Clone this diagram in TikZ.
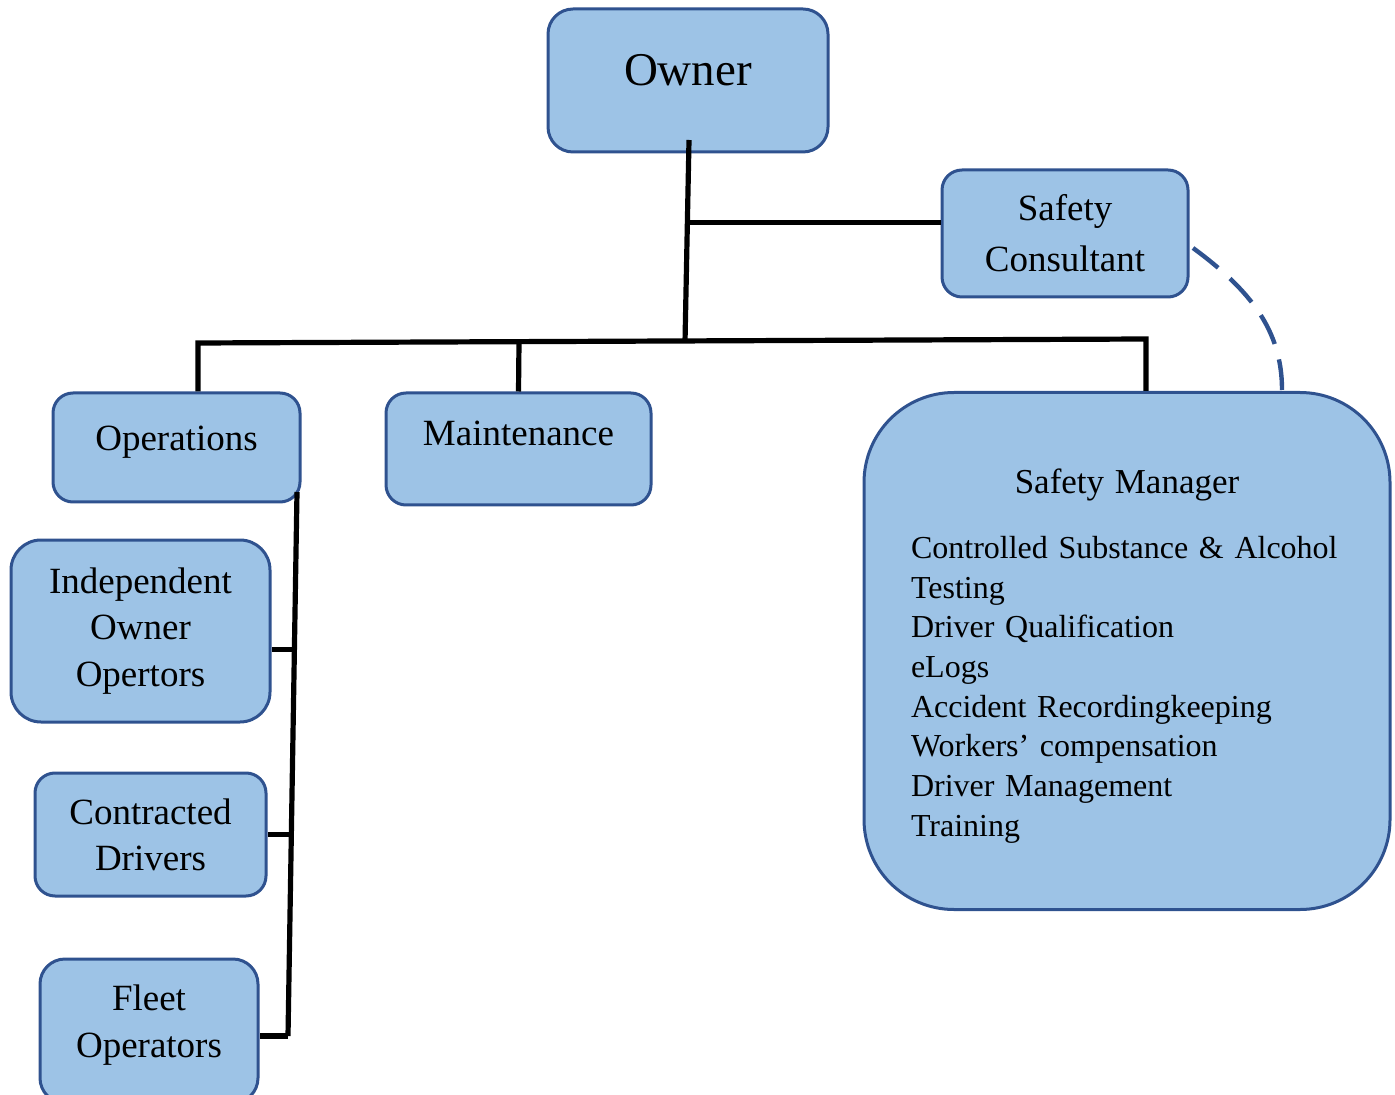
\documentclass[tikz,border=0pt]{standalone}
\usepackage{fontspec}
\setmainfont{Liberation Serif}
\usetikzlibrary{calc}
\definecolor{boxfill}{RGB}{157,195,230}
\definecolor{boxline}{RGB}{47,82,143}
\begin{document}
\begin{tikzpicture}[
  x=0.5pt, y=-0.5pt,
  box/.style={draw=boxline, fill=boxfill, line width=1.5pt, rounded corners=10pt,
    inner sep=0pt, align=center, font=\fontsize{18.5}{23.25}\selectfont},
  txt/.style={font=\fontsize{18.5}{23.25}\selectfont, align=center},
  link/.style={line width=2.6pt, black},
  advise/.style={line width=2.2pt, boxline, dash pattern=on 16pt off 8pt}
]
\useasboundingbox (0,0) rectangle (1395,1095);

\node[box, minimum width=140pt, minimum height=71.5pt, rounded corners=12.5pt,
  label={[yshift=5.25pt, font=\fontsize{23.5}{28}\selectfont]center:Owner}] (owner) at (688,80.5) {};
\node[box, minimum width=123pt, minimum height=63.5pt,
  font=\fontsize{18.5}{25.5}\selectfont] (consultant) at (1065,233.5) {Safety\\Consultant};
\node[box, minimum width=123.5pt, minimum height=54.5pt,
  label={[txt, yshift=2.5pt]center:Operations}] (ops) at (176.5,447.5) {};
\node[box, minimum width=132.5pt, minimum height=56pt,
  label={[txt, yshift=7.75pt]center:Maintenance}] (maint) at (518.5,449) {};
\node[box, minimum width=263pt, minimum height=258.5pt, rounded corners=45pt,
  text width=216pt, align=left, font=\fontsize{16}{19.85}\selectfont] (mgr) at (1127,651)
  {\makebox[216pt][c]{\rule{0pt}{17.5pt}\fontsize{17.5}{21}\selectfont Safety Manager}\\[12.5pt]
   Controlled Substance \& Alcohol\\
   Testing\\
   Driver Qualification\\
   eLogs\\
   Accident Recordingkeeping\\
   Workers’ compensation\\
   Driver Management\\
   Training};
\node[box, minimum width=129.5pt, minimum height=91pt, rounded corners=15pt] (indep) at (140.5,631) {Independent\\Owner\\Opertors};
\node[box, minimum width=115.5pt, minimum height=61.5pt, font=\fontsize{18.5}{23}\selectfont] (contr) at (150.5,834.5) {Contracted\\Drivers};
\node[box, minimum width=109pt, minimum height=72pt, rounded corners=12.5pt,
  label={[txt, yshift=3pt, font=\fontsize{18.5}{23.5}\selectfont]center:Fleet\\Operators}] (fleet) at (149,1031) {};

\coordinate (trunk-top) at (689,140);
\coordinate (trunk-bot) at (685,342);
\coordinate (cons-join) at ($(trunk-top)!0.41!(trunk-bot)$);
\coordinate (bus-l) at (198,343);
\coordinate (bus-m) at (519,342);
\coordinate (bus-r) at (1146,339);
\coordinate (rail-top) at (297,492);
\coordinate (rail-bot) at (288,1036);
\coordinate (rail-a) at ($(rail-top)!0.289!(rail-bot)$);
\coordinate (rail-b) at ($(rail-top)!0.629!(rail-bot)$);
\coordinate (dash-a) at (1193,248);
\coordinate (dash-b) at (1282,390);

\draw[link] (trunk-top) -- (trunk-bot);
\draw[link] (cons-join) -- (cons-join -| consultant.west);
\draw[link] (bus-l |- ops.north) -- (bus-l) -- (bus-r) -- (bus-r |- mgr.north);
\draw[link] (bus-m) -- (maint.north);
\draw[link] (rail-top) -- (rail-bot);
\draw[link] (rail-a) -- (rail-a -| indep.east);
\draw[link] (rail-b) -- (rail-b -| contr.east);
\draw[link] (rail-bot) -- (rail-bot -| fleet.east);
\draw[advise] (dash-a) .. controls (1250,290) and (1282,330) .. (dash-b);
\end{tikzpicture}
\end{document}
